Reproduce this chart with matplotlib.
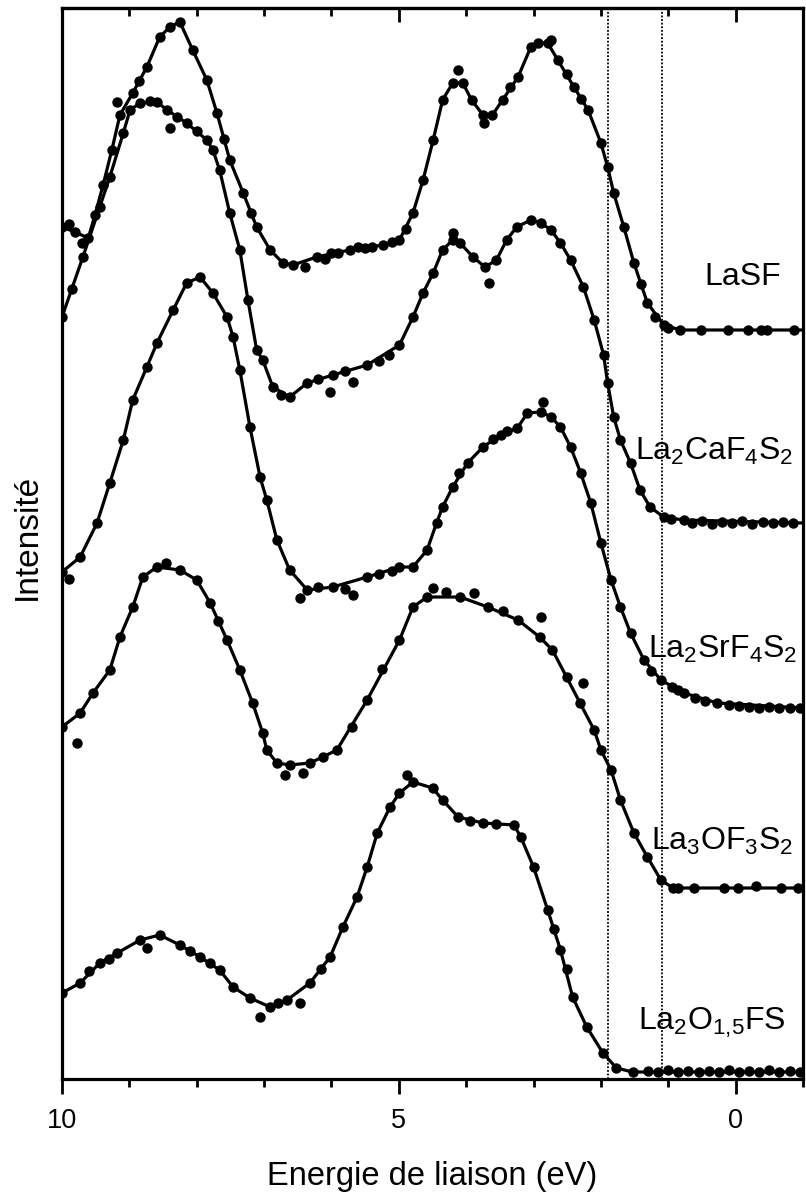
import matplotlib
matplotlib.use("Agg")
import matplotlib.pyplot as plt
from matplotlib.ticker import MultipleLocator

plt.rcParams['font.family'] = ['Liberation Sans', 'DejaVu Sans']
plt.rcParams['mathtext.fontset'] = 'custom'
plt.rcParams['mathtext.rm'] = 'Liberation Sans'
plt.rcParams['mathtext.it'] = 'Liberation Sans:italic'
plt.rcParams['mathtext.bf'] = 'Liberation Sans:bold'

# ---------------- data (binding energy in eV, intensity in arbitrary stacked units) ----------------
lasf_x = [10.00, 9.81, 9.61, 9.51, 9.39, 9.26, 9.14, 8.95, 8.74, 8.55, 8.40, 8.25, 8.06, 7.85, 7.70,
          7.51, 7.31, 7.11, 6.91, 6.72, 6.57, 6.22, 5.73, 5.24, 4.99, 4.79, 4.64, 4.49, 4.35, 4.20,
          4.05, 3.92, 3.75, 3.61, 3.46, 3.23, 3.04, 2.94, 2.79, 2.64, 2.40, 2.19, 2.00, 1.90, 1.81,
          1.66, 1.51, 1.31, 1.07, 0.82, -1.00]
lasf_y = [852, 847, 841, 864, 894, 929, 964, 986, 1012, 1042, 1052, 1057, 1029, 999, 966,
          919, 886, 852, 829, 816, 814, 822, 829, 834, 839, 866, 899, 939, 979, 996,
          996, 979, 964, 964, 979, 1002, 1032, 1036, 1036, 1019, 992, 969, 936, 912, 886,
          852, 816, 776, 754, 749, 749]
lasf_extra_x = [9.18, 4.12, 3.74, 2.74, 9.70, 9.90, 6.40, 6.00, 5.50, 6.10, 5.90, 5.60, 5.40, 5.10,
                8.85, 7.60, 7.20, 4.90, 3.35, 2.50, 2.30, 1.40, 1.20,
                1.01, 0.52, 0.12, -0.18, -0.37, -0.47, -0.86]
lasf_y_extra = None
lasf_extra_y = [977, 1009, 956, 1039, 836, 855, 812, 826, 831, 820, 826, 832, 832, 837,
                998, 940, 866, 850, 992, 1005, 980, 795, 762,
                751, 749, 749, 749, 749, 749, 749]

caf_x = [10.00, 9.69, 9.44, 9.29, 9.09, 8.99, 8.84, 8.59, 8.44, 8.15, 7.85, 7.76, 7.66, 7.51, 7.36,
         7.24, 7.11, 7.02, 6.87, 6.62, 6.36, 5.98, 5.47, 4.99, 4.79, 4.64, 4.49, 4.35, 4.20, 4.09,
         3.90, 3.72, 3.55, 3.40, 3.25, 3.04, 2.89, 2.74, 2.60, 2.45, 2.26, 2.10, 1.96, 1.90, 1.81,
         1.71, 1.56, 1.42, 1.27, 1.07, 0.77, -1.00]
caf_y = [762, 822, 872, 902, 946, 969, 976, 977, 969, 956, 939, 929, 909, 866, 829,
         779, 729, 719, 692, 682, 696, 704, 714, 734, 762, 786, 806, 829, 839, 836,
         822, 812, 819, 839, 852, 859, 856, 849, 836, 819, 792, 759, 724, 696, 662,
         639, 616, 589, 572, 562, 559, 556]
caf_extra_x = [8.40, 3.66, 4.20, 6.02, 5.68, 9.85, 6.20, 5.80, 5.30, 5.15, 8.70, 8.30, 8.00, 6.75,
               0.96, 0.65, 0.50, 0.35, 0.20, 0.05, -0.10, -0.25, -0.40, -0.55, -0.70, -0.85]
caf_extra_y = [951, 796, 846, 687, 697, 790, 700, 708, 718, 724, 978, 962, 948, 684,
               560, 556, 558, 555, 557, 556, 558, 555, 557, 556, 557, 556]

srf_x = [10.00, 9.73, 9.48, 9.29, 9.09, 8.95, 8.74, 8.59, 8.35, 8.15, 7.95, 7.76, 7.55, 7.46, 7.36,
         7.21, 7.06, 6.96, 6.81, 6.62, 6.36, 5.98, 5.47, 4.99, 4.79, 4.58, 4.44, 4.35, 4.20, 3.98,
         3.75, 3.49, 3.24, 3.09, 2.89, 2.74, 2.60, 2.45, 2.30, 2.15, 2.00, 1.85, 1.71, 1.56, 1.36,
         1.11, 0.77, 0.27, -1.00]
srf_y = [507, 522, 556, 596, 639, 679, 712, 736, 769, 796, 802, 786, 762, 742, 709,
         652, 602, 579, 539, 509, 489, 492, 502, 512, 512, 529, 556, 572, 592, 616,
         632, 644, 651, 666, 667, 662, 652, 632, 606, 576, 536, 499, 472, 446, 419,
         399, 386, 376, 371]
srf_extra_x = [2.86, 5.68, 6.47, 9.90, 6.20, 5.80, 5.30, 5.10, 3.60, 3.40, 4.10, 1.25, 0.85,
               0.95, 0.60, 0.45, 0.10, -0.05, -0.20, -0.35, -0.50, -0.65, -0.80, -0.95]
srf_extra_y = [677, 484, 481, 500, 492, 490, 505, 508, 640, 648, 606, 408, 389,
               392, 381, 378, 374, 373, 372, 371, 372, 371, 371, 371]

laof_x = [10.00, 9.73, 9.54, 9.29, 9.14, 8.95, 8.80, 8.59, 8.25, 8.00, 7.80, 7.55, 7.36, 7.17, 7.02,
          6.96, 6.81, 6.62, 6.32, 6.13, 5.92, 5.47, 4.99, 4.79, 4.58, 4.09, 3.68, 3.23, 2.91, 2.72,
          2.51, 2.31, 2.10, 2.00, 1.85, 1.71, 1.51, 1.31, 1.11, 0.93, -1.00]
laof_y = [352, 366, 386, 409, 442, 472, 502, 512, 509, 499, 476, 439, 409, 376, 346,
          329, 316, 314, 316, 322, 329, 379, 439, 472, 482, 482, 472, 459, 442, 429,
          402, 376, 349, 329, 309, 279, 246, 222, 199, 191, 191]
laof_extra_x = [4.50, 3.89, 2.89, 2.27, 6.69, 6.42, 9.78, 5.70, 5.25, 4.30, 3.45, 8.45, 7.68,
                0.85, 0.62, 0.18, -0.03, -0.30, -0.67, -0.92]
laof_extra_y = [491, 486, 462, 396, 304, 306, 336, 352, 410, 487, 468, 516, 458,
                191, 191, 191, 191, 193, 191, 191]

lao_x = [10.00, 9.73, 9.44, 9.18, 8.84, 8.55, 8.25, 7.95, 7.66, 7.46, 7.21, 6.91, 6.66, 6.32, 6.02,
         5.83, 5.62, 5.47, 5.32, 5.13, 4.99, 4.79, 4.50, 4.35, 4.12, 3.75, 3.29, 3.19, 3.00, 2.79,
         2.60, 2.42, 2.21, 1.97, 1.77, 1.53, -1.00]
lao_y = [86, 96, 116, 126, 139, 144, 134, 122, 109, 92, 81, 72, 79, 96, 122,
         152, 182, 212, 246, 272, 286, 297, 291, 279, 262, 256, 254, 242, 212, 169,
         129, 82, 52, 26, 11, 7, 7]
lao_extra_x = [7.06, 6.47, 8.74, 4.88, 9.60, 9.30, 8.10, 7.80, 6.80, 6.15, 3.95, 3.55, 2.70, 2.50,
               1.30, 1.15, 1.00, 0.85, 0.70, 0.55, 0.40, 0.25, 0.10, -0.05,
               -0.20, -0.35, -0.50, -0.65, -0.80, -0.95]
lao_extra_y = [62, 76, 131, 304, 108, 120, 128, 116, 76, 110, 258, 255, 150, 110,
               8, 7, 9, 7, 8, 7, 8, 7, 9, 7, 8, 7, 9, 7, 8, 7]

labels = ['LaSF', r'La$_\mathrm{2}$CaF$_\mathrm{4}$S$_\mathrm{2}$', r'La$_\mathrm{2}$SrF$_\mathrm{4}$S$_\mathrm{2}$',
          r'La$_\mathrm{3}$OF$_\mathrm{3}$S$_\mathrm{2}$', r'La$_\mathrm{2}$O$_\mathrm{1{,}5}$FS']
label_x = [-0.67, -0.86, -0.92, -0.86, -0.74]
label_y = [794, 619, 421, 229, 49]

edge_lines = [1.9, 1.1]

# ---------------- figure ----------------
fig = plt.figure(figsize=(8.06, 11.96), dpi=100)
ax = fig.add_axes([62/806, 1-1079/1196, (803-62)/806, (1079-8)/1196])

series = [(lasf_x, lasf_y, lasf_extra_x, lasf_extra_y),
          (caf_x, caf_y, caf_extra_x, caf_extra_y),
          (srf_x, srf_y, srf_extra_x, srf_extra_y),
          (laof_x, laof_y, laof_extra_x, laof_extra_y),
          (lao_x, lao_y, lao_extra_x, lao_extra_y)]

for lx, ly, ex, ey in series:
    ax.plot(lx, ly, color='black', lw=2.3, solid_joinstyle='round', zorder=3)
    ax.plot(lx[:-1] + ex, ly[:-1] + ey, 'o', color='black', ms=7.5, mew=0, zorder=4)

for xv in edge_lines:
    ax.axvline(xv, color='black', lw=1.3, ls=(0, (1, 1)), zorder=2)

for t, x, y in zip(labels, label_x, label_y):
    ax.text(x, y, t, fontsize=23, ha='right', va='baseline', zorder=5)

ax.set_xlim(10, -1)
ax.set_ylim(0, 1071)
ax.xaxis.set_major_locator(MultipleLocator(5))
ax.xaxis.set_minor_locator(MultipleLocator(1))
ax.set_yticks([])
ax.tick_params(axis='x', which='major', direction='out', length=11, width=2, labelsize=19.5, pad=10)
ax.tick_params(axis='x', which='minor', direction='out', length=6, width=2)
for s in ax.spines.values():
    s.set_linewidth(2.3)

sec = ax.secondary_xaxis('top')
sec.xaxis.set_major_locator(MultipleLocator(5))
sec.xaxis.set_minor_locator(MultipleLocator(1))
sec.tick_params(axis='x', which='major', direction='in', length=10, width=2, labeltop=False)
sec.tick_params(axis='x', which='minor', direction='in', length=6, width=2)
sec.spines['top'].set_linewidth(2.3)

fig.text(432/806, 1-1185/1196, 'Energie de liaison (eV)', fontsize=23.5, ha='center', va='baseline')
fig.text(27/806, 1-537/1196, 'Intensité', fontsize=24, rotation=90, ha='center', va='center')

fig.savefig('out.png', dpi=100)
